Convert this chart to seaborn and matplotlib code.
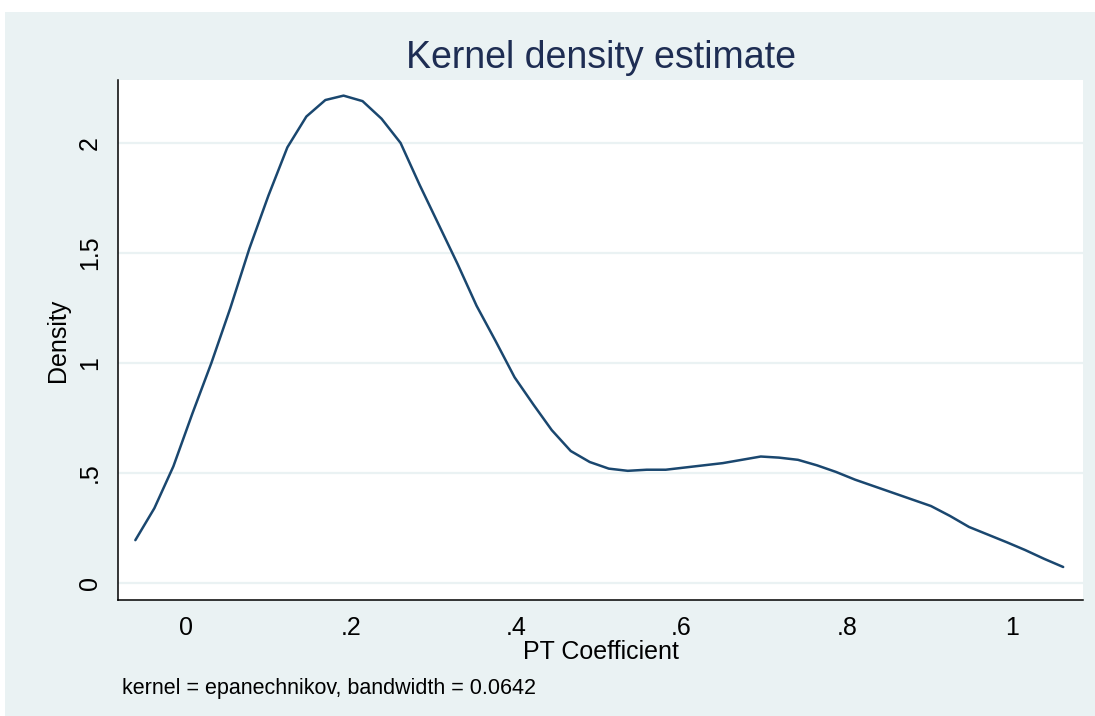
import matplotlib
matplotlib.use("Agg")
import matplotlib.pyplot as plt
import seaborn as sns
import pandas as pd

# evaluation points and density (Stata kdensity, n=50)
pt_coef = [-0.061, -0.038, -0.015, 0.008, 0.031, 0.054, 0.077, 0.100, 0.123, 0.146,
           0.169, 0.191, 0.214, 0.237, 0.260, 0.283, 0.306, 0.329, 0.352, 0.375,
           0.398, 0.421, 0.443, 0.466, 0.489, 0.512, 0.535, 0.558, 0.581, 0.604,
           0.627, 0.650, 0.673, 0.696, 0.718, 0.741, 0.764, 0.787, 0.810, 0.833,
           0.856, 0.879, 0.902, 0.925, 0.948, 0.971, 0.994, 1.016, 1.039, 1.062]
density = [0.195, 0.34, 0.53, 0.77, 1.00, 1.25, 1.52, 1.76, 1.98, 2.12,
           2.195, 2.215, 2.19, 2.11, 2.00, 1.81, 1.63, 1.45, 1.26, 1.10,
           0.935, 0.81, 0.695, 0.60, 0.55, 0.52, 0.51, 0.515, 0.515, 0.525,
           0.535, 0.545, 0.56, 0.575, 0.57, 0.56, 0.535, 0.505, 0.47, 0.44,
           0.41, 0.38, 0.35, 0.305, 0.255, 0.22, 0.185, 0.15, 0.11, 0.073]

x_ticks = [0, 0.2, 0.4, 0.6, 0.8, 1.0]
x_ticklabels = ["0", ".2", ".4", ".6", ".8", "1"]
y_ticks = [0, 0.5, 1.0, 1.5, 2.0]
y_ticklabels = ["0", ".5", "1", "1.5", "2"]

title = "Kernel density estimate"
x_label = "PT Coefficient"
y_label = "Density"
note = "kernel = epanechnikov, bandwidth = 0.0642"

bg = "#EAF2F3"
line_color = "#1A476F"

sns.set_style("white")
plt.rcParams['font.family'] = ['Liberation Sans', 'DejaVu Sans']
plt.rcParams['text.color'] = "black"
plt.rcParams['axes.labelcolor'] = "black"
plt.rcParams['xtick.color'] = "black"
plt.rcParams['ytick.color'] = "black"

df = pd.DataFrame({"x": pt_coef, "y": density})

fig = plt.figure(figsize=(10.95, 7.16), dpi=100, facecolor="white")

# stata style outer panel behind everything
bg_ax = fig.add_axes([5 / 1095, 0, 1, (716 - 12) / 716], zorder=-1)
bg_ax.set_facecolor(bg)
bg_ax.set_xticks([])
bg_ax.set_yticks([])
for s in bg_ax.spines.values():
    s.set_visible(False)

ax = fig.add_axes([118 / 1095, (716 - 600) / 716, (1083 - 118) / 1095, (600 - 80) / 716])
ax.set_facecolor("white")

sns.lineplot(data=df, x="x", y="y", ax=ax, color=line_color, linewidth=1.8)

ax.set_xlim(-0.082, 1.086)
ax.set_ylim(-0.077, 2.286)
ax.set_yticks(y_ticks)
ax.set_yticklabels(y_ticklabels, rotation=90, va="center", fontsize=18)
ax.set_xticks(x_ticks)
ax.set_xticklabels(x_ticklabels, fontsize=18)

for yv in y_ticks:
    ax.axhline(yv, color=bg, linewidth=1.6, zorder=0)

for side in ["top", "right"]:
    ax.spines[side].set_visible(False)
for side in ["left", "bottom"]:
    ax.spines[side].set_color("black")
    ax.spines[side].set_linewidth(1.1)

ax.tick_params(axis="y", direction="out", length=8.5, width=1.0, color="black", pad=3)
ax.tick_params(axis="x", direction="out", length=6.5, width=1.0, color="black", pad=5)

ax.set_xlabel(x_label, fontsize=18, labelpad=0)
ax.set_ylabel(y_label, fontsize=18, labelpad=6)
ax.set_title(title, fontsize=27, color="#1E2D53", pad=9)

fig.text(122 / 1095, 1 - 694 / 716, note, fontsize=15.5, ha="left", va="baseline")

fig.savefig("out.png", dpi=100, facecolor=fig.get_facecolor())
